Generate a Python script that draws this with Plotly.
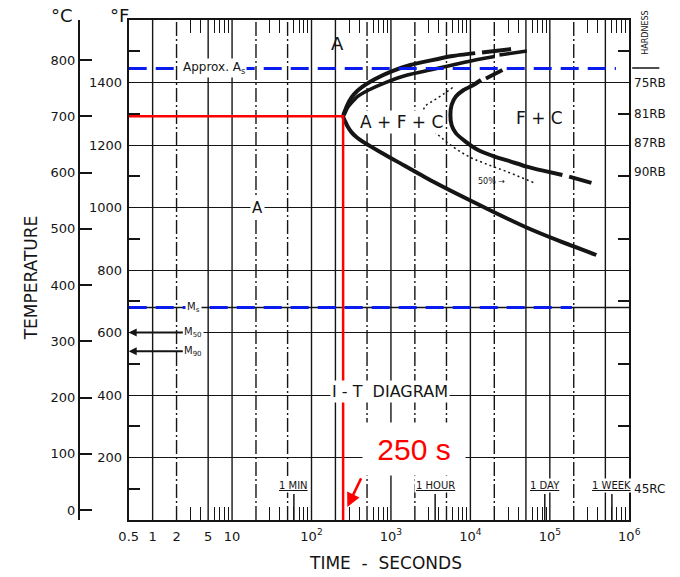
import math
import plotly.graph_objects as go

# ---------------------------------------------------------------- data ---
# time axis (seconds, logarithmic)
time_ticks = [0.5, 1, 2, 5, 10, 1e2, 1e3, 1e4, 1e5, 1e6]
time_tick_text = ["0.5", "1", "2", "5", "10", "10<sup>2</sup>", "10<sup>3</sup>",
                  "10<sup>4</sup>", "10<sup>5</sup>", "10<sup>6</sup>"]
time_minor = [m * 10 ** d for d in range(0, 6) for m in (3, 4, 6, 7, 8, 9)]

grid_solid_times = [1, 5, 10, 100, 200, 1e3, 1e4, 5e4, 1e5, 5e5]
grid_dashed_times = [2, 20, 50, 500, 2e3, 5e3, 2e4, 2e5]

time_markers = [60, 3600, 86400, 604800]
time_marker_labels = ["1 MIN", "1 HOUR", "1 DAY", "1 WEEK"]

# temperature axes
temp_f_ticks = [200, 400, 600, 800, 1000, 1200, 1400]
temp_f_minor = [100, 300, 500, 700, 900, 1100, 1300, 1500]
temp_c_ticks = [0, 100, 200, 300, 400, 500, 600, 700, 800]
temp_f_range = [0, 1600]

# critical temperatures (deg F)
as_temp_f = 1445
ms_temp_f = 680
m50_temp_f = 600
m90_temp_f = 540

# transformation start curve (time s, temp F)
start_upper_t = [11500, 5984, 3076, 1754, 1000, 633, 431, 344, 299, 272]
start_upper_f = [1494, 1485, 1470, 1456, 1435, 1411, 1385, 1363, 1341, 1318]
nose_time_s = 250
nose_temp_c = 700
start_lower_t = [267, 285, 316, 361, 478, 762, 1217, 3100, 7920, 20200, 50900, 131300, 385000]
start_lower_f = [1274, 1259, 1242, 1227, 1205, 1175, 1146, 1088, 1035, 984, 936, 893, 848]
start_ext_t = [14000, 32500]
start_ext_f = [1496, 1507]

# second upper branch
inner_t = [262, 285, 314, 378, 525, 838, 1611, 3100, 5980, 11500, 20200]
inner_f = [1300, 1320, 1333, 1355, 1376, 1399, 1424, 1440, 1456, 1472, 1483]
inner_ext_t = [23200, 51400]
inner_ext_f = [1488, 1501]

# transformation finish curve
finish_t = [13600, 10900, 8220, 6560, 5800, 5600, 5800, 6560, 8690, 12500, 20200,
            32300, 50900, 82200, 144000]
finish_f = [1408, 1392, 1376, 1355, 1328, 1296, 1264, 1238, 1211, 1184, 1163,
            1147, 1131, 1118, 1104]
finish_ext_upper_t = [15700, 25300]
finish_ext_upper_f = [1413, 1440]
finish_ext_lower_t = [175000, 334000]
finish_ext_lower_f = [1099, 1079]

# 50 % transformation (dotted)
half_t = [5980, 4720, 3540, 2690, 2460, 3740, 5980, 9530, 15200, 29300, 62000]
half_f = [1384, 1365, 1344, 1323, 1280, 1237, 1195, 1163, 1141, 1114, 1080]

# hardness of the products
hardness_labels = ["75RB", "81RB", "87RB", "90RB", "45RC"]
hardness_temp_f = [1400, 1300, 1205, 1115, 100]


def c_to_f(c):
    return c * 9 / 5 + 32


def f_to_c(f):
    return (f - 32) * 5 / 9


lx = math.log10
nose_temp_f = c_to_f(nose_temp_c)
t_min, t_max = time_ticks[0], time_ticks[-1]

INK = "#151515"
FONT = "DejaVu Sans"
W, H = 680, 577

fig = go.Figure()


def vlines(times):
    xs, ys = [], []
    for t in times:
        xs += [t, t, None]
        ys += [temp_f_range[0], temp_f_range[1], None]
    return xs, ys


# vertical grid
xs, ys = vlines(grid_solid_times)
fig.add_trace(go.Scatter(x=xs, y=ys, mode="lines", line=dict(color=INK, width=1.4)))
xs, ys = vlines(grid_dashed_times)
fig.add_trace(go.Scatter(x=xs, y=ys, mode="lines",
                         line=dict(color=INK, width=1.4, dash="14px,3px,2px,3px")))

# time marker ticks
mx, my = [], []
for t in time_markers:
    mx += [t, t, None]
    my += [0, 83, None]
fig.add_trace(go.Scatter(x=mx, y=my, mode="lines", line=dict(color=INK, width=1.5)))

# original Ms line
fig.add_trace(go.Scatter(x=[t_min, t_max], y=[ms_temp_f, ms_temp_f], mode="lines",
                         line=dict(color=INK, width=1.4)))

# curves
curve = dict(color=INK, width=4)
fig.add_trace(go.Scatter(x=start_upper_t + [nose_time_s] + start_lower_t,
                         y=start_upper_f + [nose_temp_f] + start_lower_f,
                         mode="lines", line=dict(shape="spline", smoothing=0.5, **curve)))
fig.add_trace(go.Scatter(x=start_ext_t, y=start_ext_f, mode="lines", line=curve))
fig.add_trace(go.Scatter(x=[nose_time_s] + inner_t, y=[nose_temp_f] + inner_f, mode="lines",
                         line=dict(shape="spline", smoothing=0.5, color=INK, width=3.5)))
fig.add_trace(go.Scatter(x=inner_ext_t, y=inner_ext_f, mode="lines",
                         line=dict(color=INK, width=3.5)))
fig.add_trace(go.Scatter(x=finish_t, y=finish_f, mode="lines",
                         line=dict(shape="spline", smoothing=0.5, **curve)))
fig.add_trace(go.Scatter(x=finish_ext_upper_t, y=finish_ext_upper_f, mode="lines", line=curve))
fig.add_trace(go.Scatter(x=finish_ext_lower_t, y=finish_ext_lower_f, mode="lines", line=curve))
fig.add_trace(go.Scatter(x=half_t, y=half_f, mode="lines",
                         line=dict(shape="spline", color=INK, width=1.5, dash="2px,3px")))

# red construction lines at the nose
fig.add_trace(go.Scatter(x=[t_min, nose_time_s, nose_time_s],
                         y=[nose_temp_f, nose_temp_f, temp_f_range[0]],
                         mode="lines", line=dict(color="#ff0000", width=2.5)))

# blue critical temperature lines
blue = dict(color="#0a1cf0", width=3, dash="18px,9px")
fig.add_trace(go.Scatter(x=[t_min, 6.8e5], y=[as_temp_f, as_temp_f], mode="lines", line=blue))
fig.add_trace(go.Scatter(x=[t_min, 1.9e5], y=[ms_temp_f, ms_temp_f], mode="lines", line=blue))

# carrier for the Celsius axis
fig.add_trace(go.Scatter(x=[1], y=[0], yaxis="y2", mode="markers",
                         marker=dict(opacity=0)))

# ---------------------------------------------------------- annotations ---
ann = []


def label(text, t, f, size, bg=None, **kw):
    d = dict(x=lx(t), y=f, xref="x", yref="y", text=text, showarrow=False,
             font=dict(family=FONT, size=size, color=INK))
    if bg:
        d["bgcolor"] = bg
        d["borderpad"] = 1
    d.update(kw)
    ann.append(d)


def page_text(text, px, py, size, **kw):
    d = dict(x=px / W, y=(H - py) / H, xref="paper", yref="paper", text=text,
             xanchor="center", yanchor="middle", showarrow=False,
             font=dict(family=FONT, size=size, color=INK))
    d.update(kw)
    ann.append(d)


label("A", 213, 1526, 18)
label("A", 20.7, 1000, 15, bg="white")
label("A + F + C", 1362, 1274, 17, bg="white")
label("F + C", 73400, 1286, 17)
label("I - T  DIAGRAM", 972, 410, 16, bg="white")
label("Approx. A<sub>s</sub>", 5.87, as_temp_f, 12, bg="white")
label("M<sub>s</sub>", 3.25, ms_temp_f, 10, bg="white")
label("50% →", 18550, 1082, 8)

for txt, tf in (("M<sub>50</sub>", m50_temp_f), ("M<sub>90</sub>", m90_temp_f)):
    ann.append(dict(x=lx(t_min), y=tf, ax=lx(3.25), ay=tf, xref="x", yref="y",
                    axref="x", ayref="y", text=txt, showarrow=True, arrowhead=2,
                    arrowsize=0.8, arrowwidth=2, arrowcolor=INK, standoff=0,
                    bgcolor="white", font=dict(family=FONT, size=10, color=INK)))

for t, txt in zip(time_markers, time_marker_labels):
    label(f"<u>{txt}</u>", t, 112, 10, bg="white")

# time of the nose
ann.append(dict(x=lx(nose_time_s * 7.85), y=227, xref="x", yref="y",
                text=f"{nose_time_s} s", showarrow=False, bgcolor="white",
                width=100, height=50,
                font=dict(family="Liberation Sans", size=30, color="#ff0000")))
ann.append(dict(x=lx(nose_time_s * 1.13), y=42, ax=lx(nose_time_s * 1.72), ay=138,
                xref="x", yref="y", axref="x", ayref="y", text="", showarrow=True,
                arrowhead=2, arrowsize=1.1, arrowwidth=2.5, arrowcolor="#ff0000"))

# hardness column
for txt, tf in zip(hardness_labels, hardness_temp_f):
    ann.append(dict(x=642 / W, y=tf, xref="paper", yref="y", text=txt,
                    xanchor="left", yanchor="middle", showarrow=False,
                    font=dict(family=FONT, size=12, color=INK)))
page_text("HARDNESS", 656, 33, 8, textangle=-90)

# axis captions
page_text("°C", 54, 16, 18)
page_text("°F", 113, 16, 18)
page_text("TEMPERATURE", 22, 278, 17, textangle=-90)
page_text("TIME  -  SECONDS", 387, 563, 17)

shapes = [dict(type="line", xref="paper", yref="paper", x0=642 / W, x1=670 / W,
               y0=(H - 68) / H, y1=(H - 68) / H, line=dict(color=INK, width=1.5))]

x_dom = [122.5 / W, 639 / W]
y_dom = [(H - 520) / H, (H - 20) / H]

fig.update_layout(
    width=W, height=H, autosize=False,
    margin=dict(l=0, r=0, t=0, b=0, pad=0),
    paper_bgcolor="white", plot_bgcolor="white",
    showlegend=False, hovermode=False,
    annotations=ann, shapes=shapes,
    xaxis=dict(type="log", range=[lx(t_min), lx(t_max)], domain=x_dom,
               tickmode="array", tickvals=time_ticks, ticktext=time_tick_text,
               ticks="", ticklabelstandoff=3, showgrid=False, zeroline=False,
               showline=True, linecolor=INK, linewidth=2, mirror="ticks",
               tickfont=dict(family=FONT, size=13, color=INK),
               minor=dict(tickmode="array", tickvals=time_minor, ticks="inside",
                          ticklen=13, tickwidth=1.3, tickcolor=INK, showgrid=False)),
    yaxis=dict(range=temp_f_range, domain=y_dom, tickmode="array", tickvals=temp_f_ticks,
               ticks="", showgrid=True, gridcolor=INK, gridwidth=1.4, zeroline=False,
               showline=True, linecolor=INK, linewidth=2, mirror="ticks",
               ticklabelstandoff=2,
               tickfont=dict(family=FONT, size=13, color=INK),
               minor=dict(tickmode="array", tickvals=temp_f_minor, ticks="inside",
                          ticklen=11, tickwidth=1.5, tickcolor=INK, showgrid=False)),
    yaxis2=dict(overlaying="y", anchor="free", position=71 / W, side="left",
                range=[f_to_c(temp_f_range[0]), f_to_c(temp_f_range[1])],
                tickmode="array", tickvals=temp_c_ticks, ticks="inside", ticklen=12,
                tickwidth=1.5, tickcolor=INK, showgrid=False, zeroline=False,
                showline=True, linecolor=INK, linewidth=2,
                tickfont=dict(family=FONT, size=13, color=INK)),
)

fig.write_html("out.html")
